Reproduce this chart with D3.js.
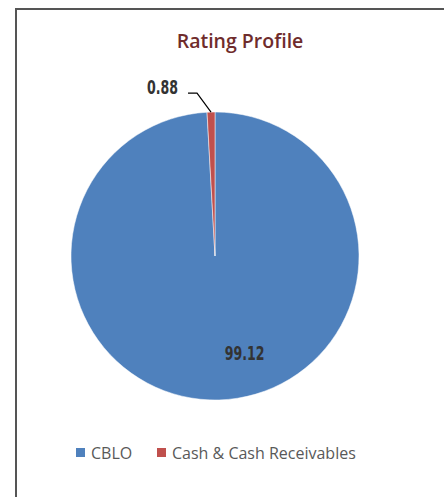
<!DOCTYPE html>
<html>
<head>
<meta charset="utf-8">
<script src="https://cdn.jsdelivr.net/npm/d3@7"></script>
<style>
  body { margin: 0; background: #fff; }
</style>
</head>
<body>
<div id="chart"></div>
<script>
// data
var categories = ["CBLO", "Cash & Cash Receivables"];
var values = [99.12, 0.88];
var colors = ["#4f81bd", "#c0504d"];
var title = "Rating Profile";

var width = 444, height = 497;

var svg = d3.select("#chart").append("svg")
    .attr("width", width)
    .attr("height", height);

// frame
svg.append("path")
    .attr("d", "M16,497 V9 H444")
    .attr("fill", "none")
    .attr("stroke", "#555")
    .attr("stroke-width", 2);

svg.append("text")
    .attr("x", 240)
    .attr("y", 48)
    .attr("text-anchor", "middle")
    .attr("font-family", "'Open Sans', Lato, sans-serif")
    .attr("font-size", 19.5)
    .attr("font-weight", 600)
    .attr("fill", "#6f2c2c")
    .text(title);

var cx = 215, cy = 256, r = 144;

var pie = d3.pie().sort(null).value(function (d) { return d; });
var arcs = pie(values);
var arc = d3.arc().innerRadius(0).outerRadius(r);

var g = svg.append("g")
    .attr("transform", "translate(" + cx + "," + cy + ")");

g.selectAll("path.slice")
    .data(arcs)
    .enter().append("path")
    .attr("class", "slice")
    .attr("d", arc)
    .attr("fill", function (d, i) { return colors[i]; })
    .attr("stroke", "#fff")
    .attr("stroke-width", 0.5);

var labelFont = "'DejaVu Sans Condensed', 'Liberation Sans Narrow', sans-serif";
var sx = 0.7;

// big slice label inside
var inner = d3.arc().innerRadius(r * 0.67).outerRadius(r * 0.67);
var c0 = inner.centroid(arcs[0]);
g.append("text")
    .attr("x", (c0[0] + 27) / sx)
    .attr("y", c0[1])
    .attr("text-anchor", "middle")
    .attr("dy", "0.36em")
    .attr("font-family", labelFont)
    .attr("font-weight", "bold")
    .attr("font-size", 20)
    .attr("fill", "#333")
    .attr("transform", "scale(" + sx + ",1)")
    .text(values[0].toFixed(2));

// small slice label outside with leader line
var edge = d3.arc().innerRadius(r).outerRadius(r).centroid(arcs[1]);
var bend = [edge[0] - 14, edge[1] - 19];
var tail = [bend[0] - 9, bend[1]];
g.append("polyline")
    .attr("points", [edge, bend, tail].map(function (p) { return p.join(","); }).join(" "))
    .attr("fill", "none")
    .attr("stroke", "#000")
    .attr("stroke-width", 1.2);

g.append("text")
    .attr("x", (tail[0] - 10) / sx)
    .attr("y", tail[1] - 6)
    .attr("dy", "0.36em")
    .attr("text-anchor", "end")
    .attr("font-family", labelFont)
    .attr("font-weight", "bold")
    .attr("font-size", 20)
    .attr("fill", "#333")
    .attr("transform", "scale(" + sx + ",1)")
    .text(values[1].toFixed(2));

// legend
var legendX = [76, 157];
var legend = svg.selectAll("g.legend")
    .data(categories)
    .enter().append("g")
    .attr("class", "legend")
    .attr("transform", function (d, i) { return "translate(" + legendX[i] + ",448)"; });

legend.append("rect")
    .attr("width", 9)
    .attr("height", 9)
    .attr("fill", function (d, i) { return colors[i]; });

legend.append("text")
    .attr("x", 15)
    .attr("y", 5)
    .attr("dy", "0.35em")
    .attr("font-family", "'Open Sans', Lato, sans-serif")
    .attr("font-size", 16)
    .attr("fill", "#595959")
    .text(function (d) { return d; });
</script>
</body>
</html>
